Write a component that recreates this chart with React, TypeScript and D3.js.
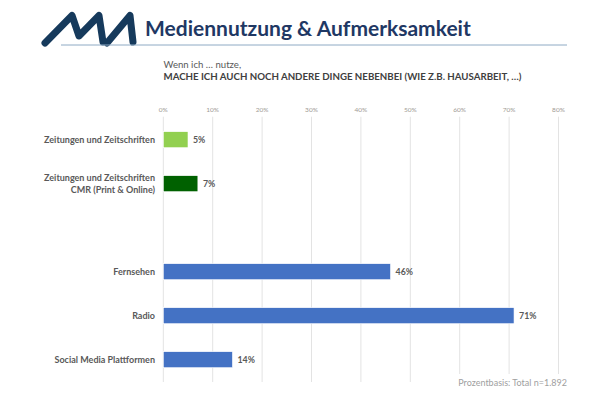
import React from "react";
import * as d3 from "d3";

const categories = [
  "Zeitungen und Zeitschriften",
  "Zeitungen und Zeitschriften|CMR (Print & Online)",
  "",
  "Fernsehen",
  "Radio",
  "Social Media Plattformen",
];
const values: (number | null)[] = [5, 7, null, 46, 71, 14];
const barColors = ["#92d050", "#006100", "none", "#4472c4", "#4472c4", "#4472c4"];
const tickValues = [0, 10, 20, 30, 40, 50, 60, 70, 80];

const W = 600;
const H = 400;
const FONT = "Lato, 'Open Sans', sans-serif";

export default function App() {
  const x = d3.scaleLinear().domain([0, 80]).range([163.3, 558.5]);
  const y = d3
    .scaleBand<string>()
    .domain(categories.map((c, i) => `${i}`))
    .range([117.7, 381.7])
    .paddingInner(0.636)
    .paddingOuter(0.318);

  const logoPath =
    "M45,43 L72,15.5 L79,36 L99,15.5 L103,42 M107,43 L130,15.5 L133,42";

  return (
    <svg
      width={W}
      height={H}
      style={{ position: "absolute", left: 0, top: 0, background: "#fff" }}
      fontFamily={FONT}
    >
      <rect width={W} height={H} fill="#fff" />
      {/* logo */}
      <path
        d={logoPath}
        fill="none"
        stroke="#163a5c"
        strokeWidth={7}
        strokeLinecap="round"
        strokeLinejoin="round"
      />
      <text x={145} y={36} fontSize={21} fontWeight={700} fill="#1f3864">
        Mediennutzung &amp; Aufmerksamkeit
      </text>
      <line x1={61} x2={567} y1={45} y2={45} stroke="#8eaac4" strokeWidth={1} />

      <text x={163.5} y={68} fontSize={9.6} fill="#595959">
        Wenn ich … nutze,
      </text>
      <text x={163.5} y={79.5} fontSize={9.7} fontWeight={700} fill="#404040">
        MACHE ICH AUCH NOCH ANDERE DINGE NEBENBEI (WIE Z.B. HAUSARBEIT, …)
      </text>

      {/* grid + ticks */}
      {tickValues.map((t) => (
        <g key={t}>
          <line
            x1={x(t)}
            x2={x(t)}
            y1={116.7}
            y2={382}
            stroke="#e3e3e3"
            strokeWidth={1}
          />
          <text
            x={x(t)}
            y={111.5}
            fontSize={6.5}
            fill="#a09a94"
            textAnchor="middle"
          >
            {t}%
          </text>
        </g>
      ))}

      {/* bars */}
      {categories.map((c, i) => {
        const v = values[i];
        const yy = y(`${i}`)!;
        const bw = y.bandwidth();
        const lines = c.split("|").filter((s) => s.length > 0);
        return (
          <g key={i}>
            {lines.map((ln, j) => (
              <text
                key={j}
                x={155}
                y={yy + bw / 2 + (j - (lines.length - 1) / 2) * 11.7}
                dy="0.35em"
                fontSize={9}
                fontWeight={700}
                fill="#595959"
                textAnchor="end"
              >
                {ln}
              </text>
            ))}
            {v !== null && (
              <>
                <rect
                  x={x(0)}
                  y={yy}
                  width={x(v) - x(0)}
                  height={bw}
                  fill={barColors[i]}
                  stroke="#ffffff"
                  strokeWidth={0.6}
                />
                <text
                  x={x(v) + 5}
                  y={yy + bw / 2}
                  dy="0.35em"
                  fontSize={8.8}
                  fontWeight={700}
                  fill="#595959"
                >
                  {v}%
                </text>
              </>
            )}
          </g>
        );
      })}

      <rect x={455} y={374} width={115} height={14} fill="#fff" />
      <text x={567} y={385.5} fontSize={9} fill="#a0a0a0" textAnchor="end">
        Prozentbasis: Total n=1.892
      </text>
    </svg>
  );
}
